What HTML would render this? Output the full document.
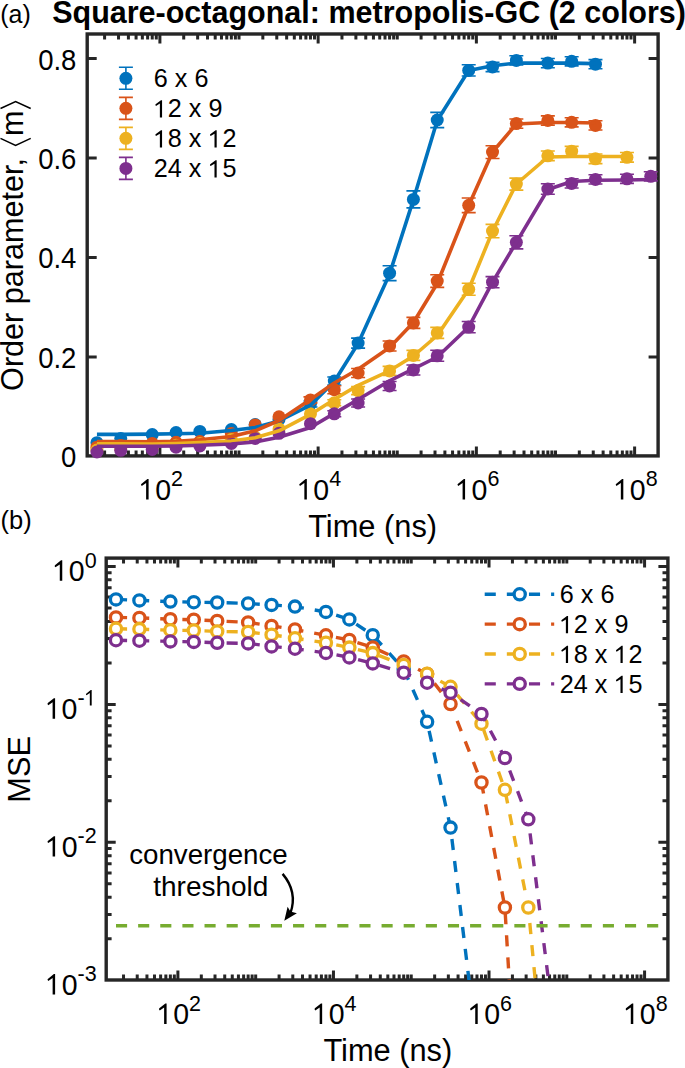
<!DOCTYPE html>
<html><head><meta charset="utf-8"><style>html,body{margin:0;padding:0;background:#fff;}svg{display:block;}.one{fill-opacity:0}</style></head>
<body>
<svg width="685" height="1068" viewBox="0 0 685 1068" font-family="Liberation Sans, sans-serif">
<rect width="685" height="1068" fill="#fff"/>
<defs>
<clipPath id="cb"><rect x="106.2" y="558.1" width="561.6999999999999" height="421.9"/></clipPath>
</defs>
<path d="M104.60 455.9v-5.4M104.60 34.0v5.4M118.53 455.9v-5.4M118.53 34.0v5.4M128.41 455.9v-5.4M128.41 34.0v5.4M136.08 455.9v-5.4M136.08 34.0v5.4M142.35 455.9v-5.4M142.35 34.0v5.4M147.64 455.9v-5.4M147.64 34.0v5.4M152.23 455.9v-5.4M152.23 34.0v5.4M156.28 455.9v-5.4M156.28 34.0v5.4M159.90 455.9v-9.5M159.90 34.0v9.5M183.72 455.9v-5.4M183.72 34.0v5.4M197.65 455.9v-5.4M197.65 34.0v5.4M207.53 455.9v-5.4M207.53 34.0v5.4M215.20 455.9v-5.4M215.20 34.0v5.4M221.47 455.9v-5.4M221.47 34.0v5.4M226.76 455.9v-5.4M226.76 34.0v5.4M231.35 455.9v-5.4M231.35 34.0v5.4M235.40 455.9v-5.4M235.40 34.0v5.4M239.02 455.9v-5.4M239.02 34.0v5.4M262.84 455.9v-5.4M262.84 34.0v5.4M276.77 455.9v-5.4M276.77 34.0v5.4M286.65 455.9v-5.4M286.65 34.0v5.4M294.32 455.9v-5.4M294.32 34.0v5.4M300.59 455.9v-5.4M300.59 34.0v5.4M305.88 455.9v-5.4M305.88 34.0v5.4M310.47 455.9v-5.4M310.47 34.0v5.4M314.52 455.9v-5.4M314.52 34.0v5.4M318.14 455.9v-9.5M318.14 34.0v9.5M341.96 455.9v-5.4M341.96 34.0v5.4M355.89 455.9v-5.4M355.89 34.0v5.4M365.77 455.9v-5.4M365.77 34.0v5.4M373.44 455.9v-5.4M373.44 34.0v5.4M379.71 455.9v-5.4M379.71 34.0v5.4M385.00 455.9v-5.4M385.00 34.0v5.4M389.59 455.9v-5.4M389.59 34.0v5.4M393.64 455.9v-5.4M393.64 34.0v5.4M397.26 455.9v-5.4M397.26 34.0v5.4M421.08 455.9v-5.4M421.08 34.0v5.4M435.01 455.9v-5.4M435.01 34.0v5.4M444.89 455.9v-5.4M444.89 34.0v5.4M452.56 455.9v-5.4M452.56 34.0v5.4M458.83 455.9v-5.4M458.83 34.0v5.4M464.12 455.9v-5.4M464.12 34.0v5.4M468.71 455.9v-5.4M468.71 34.0v5.4M472.76 455.9v-5.4M472.76 34.0v5.4M476.38 455.9v-9.5M476.38 34.0v9.5M500.20 455.9v-5.4M500.20 34.0v5.4M514.13 455.9v-5.4M514.13 34.0v5.4M524.01 455.9v-5.4M524.01 34.0v5.4M531.68 455.9v-5.4M531.68 34.0v5.4M537.95 455.9v-5.4M537.95 34.0v5.4M543.24 455.9v-5.4M543.24 34.0v5.4M547.83 455.9v-5.4M547.83 34.0v5.4M551.88 455.9v-5.4M551.88 34.0v5.4M555.50 455.9v-5.4M555.50 34.0v5.4M579.32 455.9v-5.4M579.32 34.0v5.4M593.25 455.9v-5.4M593.25 34.0v5.4M603.13 455.9v-5.4M603.13 34.0v5.4M610.80 455.9v-5.4M610.80 34.0v5.4M617.07 455.9v-5.4M617.07 34.0v5.4M622.36 455.9v-5.4M622.36 34.0v5.4M626.95 455.9v-5.4M626.95 34.0v5.4M631.00 455.9v-5.4M631.00 34.0v5.4M634.62 455.9v-9.5M634.62 34.0v9.5M87.2 356.88h9.5M658.1 356.88h-9.5M87.2 257.46h9.5M658.1 257.46h-9.5M87.2 158.04h9.5M658.1 158.04h-9.5M87.2 58.62h9.5M658.1 58.62h-9.5" stroke="#262626" stroke-width="3" fill="none"/>
<rect x="87.2" y="34.0" width="570.90" height="421.90" fill="none" stroke="#262626" stroke-width="3.4"/>
<path d="M310.47 401.00V407.00M303.47 401.00h14M303.47 407.00h14" stroke="#0072BD" stroke-width="1.6" fill="none"/><path d="M334.29 377.00V385.00M327.29 377.00h14M327.29 385.00h14" stroke="#0072BD" stroke-width="1.6" fill="none"/><path d="M358.11 338.10V348.10M351.11 338.10h14M351.11 348.10h14" stroke="#0072BD" stroke-width="1.6" fill="none"/><path d="M389.59 265.80V280.60M382.59 265.80h14M382.59 280.60h14" stroke="#0072BD" stroke-width="1.6" fill="none"/><path d="M413.41 190.90V207.90M406.41 190.90h14M406.41 207.90h14" stroke="#0072BD" stroke-width="1.6" fill="none"/><path d="M437.23 112.40V127.60M430.23 112.40h14M430.23 127.60h14" stroke="#0072BD" stroke-width="1.6" fill="none"/><path d="M468.71 64.80V76.00M461.71 64.80h14M461.71 76.00h14" stroke="#0072BD" stroke-width="1.6" fill="none"/><path d="M492.53 62.40V71.60M485.53 62.40h14M485.53 71.60h14" stroke="#0072BD" stroke-width="1.6" fill="none"/><path d="M516.35 55.80V65.00M509.35 55.80h14M509.35 65.00h14" stroke="#0072BD" stroke-width="1.6" fill="none"/><path d="M547.83 58.50V67.70M540.83 58.50h14M540.83 67.70h14" stroke="#0072BD" stroke-width="1.6" fill="none"/><path d="M571.65 56.70V65.90M564.65 56.70h14M564.65 65.90h14" stroke="#0072BD" stroke-width="1.6" fill="none"/><path d="M595.47 59.60V68.80M588.47 59.60h14M588.47 68.80h14" stroke="#0072BD" stroke-width="1.6" fill="none"/><circle cx="96.93" cy="442.70" r="6.5" fill="#0072BD"/><circle cx="120.75" cy="438.50" r="6.5" fill="#0072BD"/><circle cx="152.23" cy="434.60" r="6.5" fill="#0072BD"/><circle cx="176.05" cy="432.50" r="6.5" fill="#0072BD"/><circle cx="199.87" cy="431.40" r="6.5" fill="#0072BD"/><circle cx="231.35" cy="429.60" r="6.5" fill="#0072BD"/><circle cx="255.17" cy="424.50" r="6.5" fill="#0072BD"/><circle cx="278.99" cy="419.50" r="6.5" fill="#0072BD"/><circle cx="310.47" cy="404.00" r="6.5" fill="#0072BD"/><circle cx="334.29" cy="381.00" r="6.5" fill="#0072BD"/><circle cx="358.11" cy="343.10" r="6.5" fill="#0072BD"/><circle cx="389.59" cy="273.20" r="6.5" fill="#0072BD"/><circle cx="413.41" cy="199.40" r="6.5" fill="#0072BD"/><circle cx="437.23" cy="120.00" r="6.5" fill="#0072BD"/><circle cx="468.71" cy="70.40" r="6.5" fill="#0072BD"/><circle cx="492.53" cy="67.00" r="6.5" fill="#0072BD"/><circle cx="516.35" cy="60.40" r="6.5" fill="#0072BD"/><circle cx="547.83" cy="63.10" r="6.5" fill="#0072BD"/><circle cx="571.65" cy="61.30" r="6.5" fill="#0072BD"/><circle cx="595.47" cy="64.20" r="6.5" fill="#0072BD"/>
<path d="M310.47 396.90V402.90M303.47 396.90h14M303.47 402.90h14" stroke="#D95319" stroke-width="1.6" fill="none"/><path d="M334.29 385.70V393.70M327.29 385.70h14M327.29 393.70h14" stroke="#D95319" stroke-width="1.6" fill="none"/><path d="M358.11 368.50V377.50M351.11 368.50h14M351.11 377.50h14" stroke="#D95319" stroke-width="1.6" fill="none"/><path d="M389.59 341.00V351.00M382.59 341.00h14M382.59 351.00h14" stroke="#D95319" stroke-width="1.6" fill="none"/><path d="M413.41 317.40V328.40M406.41 317.40h14M406.41 328.40h14" stroke="#D95319" stroke-width="1.6" fill="none"/><path d="M437.23 274.80V287.40M430.23 274.80h14M430.23 287.40h14" stroke="#D95319" stroke-width="1.6" fill="none"/><path d="M468.71 198.00V212.60M461.71 198.00h14M461.71 212.60h14" stroke="#D95319" stroke-width="1.6" fill="none"/><path d="M492.53 145.70V158.50M485.53 145.70h14M485.53 158.50h14" stroke="#D95319" stroke-width="1.6" fill="none"/><path d="M516.35 119.00V128.20M509.35 119.00h14M509.35 128.20h14" stroke="#D95319" stroke-width="1.6" fill="none"/><path d="M547.83 115.90V125.10M540.83 115.90h14M540.83 125.10h14" stroke="#D95319" stroke-width="1.6" fill="none"/><path d="M571.65 117.70V126.90M564.65 117.70h14M564.65 126.90h14" stroke="#D95319" stroke-width="1.6" fill="none"/><path d="M595.47 120.80V130.00M588.47 120.80h14M588.47 130.00h14" stroke="#D95319" stroke-width="1.6" fill="none"/><circle cx="96.93" cy="447.20" r="6.5" fill="#D95319"/><circle cx="120.75" cy="445.50" r="6.5" fill="#D95319"/><circle cx="152.23" cy="443.40" r="6.5" fill="#D95319"/><circle cx="176.05" cy="442.30" r="6.5" fill="#D95319"/><circle cx="199.87" cy="441.50" r="6.5" fill="#D95319"/><circle cx="231.35" cy="433.50" r="6.5" fill="#D95319"/><circle cx="255.17" cy="424.90" r="6.5" fill="#D95319"/><circle cx="278.99" cy="416.80" r="6.5" fill="#D95319"/><circle cx="310.47" cy="399.90" r="6.5" fill="#D95319"/><circle cx="334.29" cy="389.70" r="6.5" fill="#D95319"/><circle cx="358.11" cy="373.00" r="6.5" fill="#D95319"/><circle cx="389.59" cy="346.00" r="6.5" fill="#D95319"/><circle cx="413.41" cy="322.90" r="6.5" fill="#D95319"/><circle cx="437.23" cy="281.10" r="6.5" fill="#D95319"/><circle cx="468.71" cy="205.30" r="6.5" fill="#D95319"/><circle cx="492.53" cy="152.10" r="6.5" fill="#D95319"/><circle cx="516.35" cy="123.60" r="6.5" fill="#D95319"/><circle cx="547.83" cy="120.50" r="6.5" fill="#D95319"/><circle cx="571.65" cy="122.30" r="6.5" fill="#D95319"/><circle cx="595.47" cy="125.40" r="6.5" fill="#D95319"/>
<path d="M334.29 399.80V405.80M327.29 399.80h14M327.29 405.80h14" stroke="#EDB120" stroke-width="1.6" fill="none"/><path d="M358.11 386.60V394.60M351.11 386.60h14M351.11 394.60h14" stroke="#EDB120" stroke-width="1.6" fill="none"/><path d="M389.59 366.40V375.40M382.59 366.40h14M382.59 375.40h14" stroke="#EDB120" stroke-width="1.6" fill="none"/><path d="M413.41 350.40V360.40M406.41 350.40h14M406.41 360.40h14" stroke="#EDB120" stroke-width="1.6" fill="none"/><path d="M437.23 327.40V338.40M430.23 327.40h14M430.23 338.40h14" stroke="#EDB120" stroke-width="1.6" fill="none"/><path d="M468.71 283.30V295.30M461.71 283.30h14M461.71 295.30h14" stroke="#EDB120" stroke-width="1.6" fill="none"/><path d="M492.53 224.40V237.80M485.53 224.40h14M485.53 237.80h14" stroke="#EDB120" stroke-width="1.6" fill="none"/><path d="M516.35 178.10V190.10M509.35 178.10h14M509.35 190.10h14" stroke="#EDB120" stroke-width="1.6" fill="none"/><path d="M547.83 151.00V160.60M540.83 151.00h14M540.83 160.60h14" stroke="#EDB120" stroke-width="1.6" fill="none"/><path d="M571.65 146.40V156.00M564.65 146.40h14M564.65 156.00h14" stroke="#EDB120" stroke-width="1.6" fill="none"/><path d="M595.47 154.00V163.60M588.47 154.00h14M588.47 163.60h14" stroke="#EDB120" stroke-width="1.6" fill="none"/><path d="M626.95 152.50V162.10M619.95 152.50h14M619.95 162.10h14" stroke="#EDB120" stroke-width="1.6" fill="none"/><circle cx="96.93" cy="450.00" r="6.5" fill="#EDB120"/><circle cx="120.75" cy="449.00" r="6.5" fill="#EDB120"/><circle cx="152.23" cy="447.50" r="6.5" fill="#EDB120"/><circle cx="176.05" cy="445.20" r="6.5" fill="#EDB120"/><circle cx="199.87" cy="443.60" r="6.5" fill="#EDB120"/><circle cx="231.35" cy="439.50" r="6.5" fill="#EDB120"/><circle cx="255.17" cy="437.30" r="6.5" fill="#EDB120"/><circle cx="278.99" cy="428.90" r="6.5" fill="#EDB120"/><circle cx="310.47" cy="413.80" r="6.5" fill="#EDB120"/><circle cx="334.29" cy="402.80" r="6.5" fill="#EDB120"/><circle cx="358.11" cy="390.60" r="6.5" fill="#EDB120"/><circle cx="389.59" cy="370.90" r="6.5" fill="#EDB120"/><circle cx="413.41" cy="355.40" r="6.5" fill="#EDB120"/><circle cx="437.23" cy="332.90" r="6.5" fill="#EDB120"/><circle cx="468.71" cy="289.30" r="6.5" fill="#EDB120"/><circle cx="492.53" cy="231.10" r="6.5" fill="#EDB120"/><circle cx="516.35" cy="184.10" r="6.5" fill="#EDB120"/><circle cx="547.83" cy="155.80" r="6.5" fill="#EDB120"/><circle cx="571.65" cy="151.20" r="6.5" fill="#EDB120"/><circle cx="595.47" cy="158.80" r="6.5" fill="#EDB120"/><circle cx="626.95" cy="157.30" r="6.5" fill="#EDB120"/>
<path d="M334.29 410.80V416.80M327.29 410.80h14M327.29 416.80h14" stroke="#7E2F8E" stroke-width="1.6" fill="none"/><path d="M358.11 399.00V407.00M351.11 399.00h14M351.11 407.00h14" stroke="#7E2F8E" stroke-width="1.6" fill="none"/><path d="M389.59 381.50V390.50M382.59 381.50h14M382.59 390.50h14" stroke="#7E2F8E" stroke-width="1.6" fill="none"/><path d="M413.41 365.00V375.00M406.41 365.00h14M406.41 375.00h14" stroke="#7E2F8E" stroke-width="1.6" fill="none"/><path d="M437.23 350.30V361.30M430.23 350.30h14M430.23 361.30h14" stroke="#7E2F8E" stroke-width="1.6" fill="none"/><path d="M468.71 321.50V332.70M461.71 321.50h14M461.71 332.70h14" stroke="#7E2F8E" stroke-width="1.6" fill="none"/><path d="M492.53 276.60V287.80M485.53 276.60h14M485.53 287.80h14" stroke="#7E2F8E" stroke-width="1.6" fill="none"/><path d="M516.35 235.70V248.90M509.35 235.70h14M509.35 248.90h14" stroke="#7E2F8E" stroke-width="1.6" fill="none"/><path d="M547.83 183.80V194.20M540.83 183.80h14M540.83 194.20h14" stroke="#7E2F8E" stroke-width="1.6" fill="none"/><path d="M571.65 178.80V188.00M564.65 178.80h14M564.65 188.00h14" stroke="#7E2F8E" stroke-width="1.6" fill="none"/><path d="M595.47 174.80V184.00M588.47 174.80h14M588.47 184.00h14" stroke="#7E2F8E" stroke-width="1.6" fill="none"/><path d="M626.95 174.20V183.40M619.95 174.20h14M619.95 183.40h14" stroke="#7E2F8E" stroke-width="1.6" fill="none"/><path d="M650.77 171.70V180.90M643.77 171.70h14M643.77 180.90h14" stroke="#7E2F8E" stroke-width="1.6" fill="none"/><circle cx="96.93" cy="452.00" r="6.5" fill="#7E2F8E"/><circle cx="120.75" cy="450.30" r="6.5" fill="#7E2F8E"/><circle cx="152.23" cy="449.50" r="6.5" fill="#7E2F8E"/><circle cx="176.05" cy="447.20" r="6.5" fill="#7E2F8E"/><circle cx="199.87" cy="446.00" r="6.5" fill="#7E2F8E"/><circle cx="231.35" cy="443.50" r="6.5" fill="#7E2F8E"/><circle cx="255.17" cy="438.40" r="6.5" fill="#7E2F8E"/><circle cx="278.99" cy="433.30" r="6.5" fill="#7E2F8E"/><circle cx="310.47" cy="423.70" r="6.5" fill="#7E2F8E"/><circle cx="334.29" cy="413.80" r="6.5" fill="#7E2F8E"/><circle cx="358.11" cy="403.00" r="6.5" fill="#7E2F8E"/><circle cx="389.59" cy="386.00" r="6.5" fill="#7E2F8E"/><circle cx="413.41" cy="370.00" r="6.5" fill="#7E2F8E"/><circle cx="437.23" cy="355.80" r="6.5" fill="#7E2F8E"/><circle cx="468.71" cy="327.10" r="6.5" fill="#7E2F8E"/><circle cx="492.53" cy="282.20" r="6.5" fill="#7E2F8E"/><circle cx="516.35" cy="242.30" r="6.5" fill="#7E2F8E"/><circle cx="547.83" cy="189.00" r="6.5" fill="#7E2F8E"/><circle cx="571.65" cy="183.40" r="6.5" fill="#7E2F8E"/><circle cx="595.47" cy="179.40" r="6.5" fill="#7E2F8E"/><circle cx="626.95" cy="178.80" r="6.5" fill="#7E2F8E"/><circle cx="650.77" cy="176.30" r="6.5" fill="#7E2F8E"/>
<polyline points="96.93,434.40 120.75,434.40 152.23,434.10 176.05,433.80 199.87,433.20 231.35,430.50 255.17,427.50 278.99,421.00 310.47,405.20 334.29,381.50 358.11,343.50 389.59,273.90 413.41,199.60 437.23,120.50 468.71,70.50 492.53,65.80 516.35,63.00 547.83,63.10 571.65,63.10 595.47,63.60" fill="none" stroke="#0072BD" stroke-width="3.6" stroke-linejoin="round" stroke-linecap="butt"/>
<polyline points="96.93,441.60 120.75,441.60 152.23,441.70 176.05,441.20 199.87,439.80 231.35,436.50 255.17,430.80 278.99,420.50 310.47,399.50 334.29,383.00 358.11,369.20 389.59,347.50 413.41,322.50 437.23,283.50 468.71,205.50 492.53,152.00 516.35,124.00 547.83,122.50 571.65,122.50 595.47,123.00" fill="none" stroke="#D95319" stroke-width="3.6" stroke-linejoin="round" stroke-linecap="butt"/>
<polyline points="96.93,443.90 120.75,443.90 152.23,444.00 176.05,443.50 199.87,442.60 231.35,441.10 255.17,437.80 278.99,430.80 310.47,414.40 334.29,399.40 358.11,385.30 389.59,370.80 413.41,356.00 437.23,335.50 468.71,289.30 492.53,231.30 516.35,184.00 547.83,157.00 571.65,156.50 595.47,156.50 626.95,156.50" fill="none" stroke="#EDB120" stroke-width="3.6" stroke-linejoin="round" stroke-linecap="butt"/>
<polyline points="96.93,446.20 120.75,446.20 152.23,446.30 176.05,446.00 199.87,445.20 231.35,444.00 255.17,441.90 278.99,437.30 310.47,427.50 334.29,413.40 358.11,399.50 389.59,380.80 413.41,368.80 437.23,357.00 468.71,327.00 492.53,282.20 516.35,242.30 547.83,189.50 571.65,181.50 595.47,180.30 626.95,180.00 650.77,179.50" fill="none" stroke="#7E2F8E" stroke-width="3.6" stroke-linejoin="round" stroke-linecap="butt"/>
<text transform="translate(76.4 467.20) scale(0.965 1.05)" font-size="28.5" text-anchor="end" fill="#000">0</text>
<text transform="translate(76.4 367.78) scale(0.965 1.05)" font-size="28.5" text-anchor="end" fill="#000">0.2</text>
<text transform="translate(76.4 268.36) scale(0.965 1.05)" font-size="28.5" text-anchor="end" fill="#000">0.4</text>
<text transform="translate(76.4 168.94) scale(0.965 1.05)" font-size="28.5" text-anchor="end" fill="#000">0.6</text>
<text transform="translate(76.4 69.52) scale(0.965 1.05)" font-size="28.5" text-anchor="end" fill="#000">0.8</text>
<text id="t1_0" transform="translate(161.10 499.5) scale(1 1.05)" font-size="28.5" text-anchor="middle" fill="#000"><tspan class="one">1</tspan>0<tspan dy="-12.6" font-size="21.5">2</tspan></text>
<path transform="translate(161.10 499.5) scale(1 1.05)" d="M-12.50 0.00L-12.50 -19.49L-13.72 -19.49L-19.79 -14.88L-20.14 -13.96L-19.34 -12.88L-14.98 -15.62L-14.98 0.00Z" fill="#000"/>
<text id="t1_1" transform="translate(319.34 499.5) scale(1 1.05)" font-size="28.5" text-anchor="middle" fill="#000"><tspan class="one">1</tspan>0<tspan dy="-12.6" font-size="21.5">4</tspan></text>
<path transform="translate(319.34 499.5) scale(1 1.05)" d="M-12.50 0.00L-12.50 -19.49L-13.72 -19.49L-19.79 -14.88L-20.14 -13.96L-19.34 -12.88L-14.98 -15.62L-14.98 0.00Z" fill="#000"/>
<text id="t1_2" transform="translate(477.58 499.5) scale(1 1.05)" font-size="28.5" text-anchor="middle" fill="#000"><tspan class="one">1</tspan>0<tspan dy="-12.6" font-size="21.5">6</tspan></text>
<path transform="translate(477.58 499.5) scale(1 1.05)" d="M-12.50 0.00L-12.50 -19.49L-13.72 -19.49L-19.79 -14.88L-20.14 -13.96L-19.34 -12.88L-14.98 -15.62L-14.98 0.00Z" fill="#000"/>
<text id="t1_3" transform="translate(635.82 499.5) scale(1 1.05)" font-size="28.5" text-anchor="middle" fill="#000"><tspan class="one">1</tspan>0<tspan dy="-12.6" font-size="21.5">8</tspan></text>
<path transform="translate(635.82 499.5) scale(1 1.05)" d="M-12.50 0.00L-12.50 -19.49L-13.72 -19.49L-19.79 -14.88L-20.14 -13.96L-19.34 -12.88L-14.98 -15.62L-14.98 0.00Z" fill="#000"/>
<text x="372.65" y="537.0" font-size="30.8" text-anchor="middle" fill="#000">Time (ns)</text>
<g transform="translate(22.8 390.9) rotate(-90)"><text x="0" y="0" font-size="30.6" fill="#000">Order parameter,</text><text x="255.0" y="0" font-size="30.6" fill="#000">m</text><path d="M252.5 -22.3 L245.5 -7.2 L252.5 7.9 M282.4 -22.3 L289.4 -7.2 L282.4 7.9" stroke="#000" stroke-width="1.5" fill="none"/></g>
<text x="369.1" y="22.6" font-size="30.5" font-weight="bold" text-anchor="middle" fill="#000">Square-octagonal: metropolis-GC (2 colors)</text>
<text x="0.3" y="22.6" font-size="25" fill="#000">(a)</text>
<path d="M125.9 67.3V89.3M118.9 67.3h14M118.9 89.3h14" stroke="#0072BD" stroke-width="1.6" fill="none"/>
<circle cx="125.9" cy="78.30" r="6.5" fill="#0072BD"/>
<text x="153.8" y="87.40" font-size="25.2" fill="#000">6 x 6</text>
<path d="M125.9 97.33V119.33M118.9 97.33h14M118.9 119.33h14" stroke="#D95319" stroke-width="1.6" fill="none"/>
<circle cx="125.9" cy="108.33" r="6.5" fill="#D95319"/>
<text id="t1_5" x="153.8" y="117.43" font-size="25.2" fill="#000"><tspan class="one">1</tspan>2 x 9</text>
<path d="M162.07 117.43L162.07 100.19L160.98 100.19L155.61 104.28L155.31 105.08L156.02 106.04L159.87 103.62L159.87 117.43Z" fill="#000"/>
<path d="M125.9 127.36000000000001V149.36M118.9 127.36000000000001h14M118.9 149.36h14" stroke="#EDB120" stroke-width="1.6" fill="none"/>
<circle cx="125.9" cy="138.36" r="6.5" fill="#EDB120"/>
<text id="t1_6" x="153.8" y="147.46" font-size="25.2" fill="#000"><tspan class="one">1</tspan>8 x <tspan class="one">1</tspan>2</text>
<path d="M162.07 147.46L162.07 130.22L160.98 130.22L155.61 134.31L155.31 135.11L156.02 136.07L159.87 133.65L159.87 147.46ZM216.69 147.46L216.69 130.22L215.61 130.22L210.24 134.31L209.94 135.11L210.64 136.07L214.50 133.65L214.50 147.46Z" fill="#000"/>
<path d="M125.9 157.39V179.39M118.9 157.39h14M118.9 179.39h14" stroke="#7E2F8E" stroke-width="1.6" fill="none"/>
<circle cx="125.9" cy="168.39" r="6.5" fill="#7E2F8E"/>
<text id="t1_7" x="153.8" y="177.49" font-size="25.2" fill="#000">24 x <tspan class="one">1</tspan>5</text>
<path d="M216.67 177.49L216.67 160.25L215.59 160.25L210.22 164.34L209.92 165.14L210.63 166.10L214.48 163.68L214.48 177.49Z" fill="#000"/>
<path d="M123.53 980.0v-5.4M123.53 558.1v5.4M137.23 980.0v-5.4M137.23 558.1v5.4M146.95 980.0v-5.4M146.95 558.1v5.4M154.49 980.0v-5.4M154.49 558.1v5.4M160.64 980.0v-5.4M160.64 558.1v5.4M165.85 980.0v-5.4M165.85 558.1v5.4M170.36 980.0v-5.4M170.36 558.1v5.4M174.34 980.0v-5.4M174.34 558.1v5.4M177.90 980.0v-9.5M177.90 558.1v9.5M201.31 980.0v-5.4M201.31 558.1v5.4M215.01 980.0v-5.4M215.01 558.1v5.4M224.73 980.0v-5.4M224.73 558.1v5.4M232.27 980.0v-5.4M232.27 558.1v5.4M238.42 980.0v-5.4M238.42 558.1v5.4M243.63 980.0v-5.4M243.63 558.1v5.4M248.14 980.0v-5.4M248.14 558.1v5.4M252.12 980.0v-5.4M252.12 558.1v5.4M255.68 980.0v-5.4M255.68 558.1v5.4M279.09 980.0v-5.4M279.09 558.1v5.4M292.79 980.0v-5.4M292.79 558.1v5.4M302.51 980.0v-5.4M302.51 558.1v5.4M310.05 980.0v-5.4M310.05 558.1v5.4M316.20 980.0v-5.4M316.20 558.1v5.4M321.41 980.0v-5.4M321.41 558.1v5.4M325.92 980.0v-5.4M325.92 558.1v5.4M329.90 980.0v-5.4M329.90 558.1v5.4M333.46 980.0v-9.5M333.46 558.1v9.5M356.87 980.0v-5.4M356.87 558.1v5.4M370.57 980.0v-5.4M370.57 558.1v5.4M380.29 980.0v-5.4M380.29 558.1v5.4M387.83 980.0v-5.4M387.83 558.1v5.4M393.98 980.0v-5.4M393.98 558.1v5.4M399.19 980.0v-5.4M399.19 558.1v5.4M403.70 980.0v-5.4M403.70 558.1v5.4M407.68 980.0v-5.4M407.68 558.1v5.4M411.24 980.0v-5.4M411.24 558.1v5.4M434.65 980.0v-5.4M434.65 558.1v5.4M448.35 980.0v-5.4M448.35 558.1v5.4M458.07 980.0v-5.4M458.07 558.1v5.4M465.61 980.0v-5.4M465.61 558.1v5.4M471.76 980.0v-5.4M471.76 558.1v5.4M476.97 980.0v-5.4M476.97 558.1v5.4M481.48 980.0v-5.4M481.48 558.1v5.4M485.46 980.0v-5.4M485.46 558.1v5.4M489.02 980.0v-9.5M489.02 558.1v9.5M512.43 980.0v-5.4M512.43 558.1v5.4M526.13 980.0v-5.4M526.13 558.1v5.4M535.85 980.0v-5.4M535.85 558.1v5.4M543.39 980.0v-5.4M543.39 558.1v5.4M549.54 980.0v-5.4M549.54 558.1v5.4M554.75 980.0v-5.4M554.75 558.1v5.4M559.26 980.0v-5.4M559.26 558.1v5.4M563.24 980.0v-5.4M563.24 558.1v5.4M566.80 980.0v-5.4M566.80 558.1v5.4M590.21 980.0v-5.4M590.21 558.1v5.4M603.91 980.0v-5.4M603.91 558.1v5.4M613.63 980.0v-5.4M613.63 558.1v5.4M621.17 980.0v-5.4M621.17 558.1v5.4M627.32 980.0v-5.4M627.32 558.1v5.4M632.53 980.0v-5.4M632.53 558.1v5.4M637.04 980.0v-5.4M637.04 558.1v5.4M641.02 980.0v-5.4M641.02 558.1v5.4M644.58 980.0v-9.5M644.58 558.1v9.5M106.2 938.69h5.4M667.9 938.69h-5.4M106.2 914.40h5.4M667.9 914.40h-5.4M106.2 897.18h5.4M667.9 897.18h-5.4M106.2 883.81h5.4M667.9 883.81h-5.4M106.2 872.89h5.4M667.9 872.89h-5.4M106.2 863.66h5.4M667.9 863.66h-5.4M106.2 855.66h5.4M667.9 855.66h-5.4M106.2 848.61h5.4M667.9 848.61h-5.4M106.2 842.30h9.5M667.9 842.30h-9.5M106.2 800.79h5.4M667.9 800.79h-5.4M106.2 776.50h5.4M667.9 776.50h-5.4M106.2 759.28h5.4M667.9 759.28h-5.4M106.2 745.91h5.4M667.9 745.91h-5.4M106.2 734.99h5.4M667.9 734.99h-5.4M106.2 725.76h5.4M667.9 725.76h-5.4M106.2 717.76h5.4M667.9 717.76h-5.4M106.2 710.71h5.4M667.9 710.71h-5.4M106.2 704.40h9.5M667.9 704.40h-9.5M106.2 662.89h5.4M667.9 662.89h-5.4M106.2 638.60h5.4M667.9 638.60h-5.4M106.2 621.38h5.4M667.9 621.38h-5.4M106.2 608.01h5.4M667.9 608.01h-5.4M106.2 597.09h5.4M667.9 597.09h-5.4M106.2 587.86h5.4M667.9 587.86h-5.4M106.2 579.86h5.4M667.9 579.86h-5.4M106.2 572.81h5.4M667.9 572.81h-5.4M106.2 566.50h9.5M667.9 566.50h-9.5" stroke="#262626" stroke-width="3" fill="none"/>
<rect x="106.2" y="558.1" width="561.70" height="421.90" fill="none" stroke="#262626" stroke-width="3.4"/>
<g clip-path="url(#cb)">
<polyline points="116.00,599.40 139.41,600.40 170.36,601.60 193.78,602.20 217.19,602.50 248.14,603.50 271.56,604.90 294.97,606.60 325.92,611.90 349.34,619.40 372.75,635.20 403.70,669.00 427.12,721.80 450.53,827.60 481.48,1083.00" fill="none" stroke="#0072BD" stroke-width="3.4" stroke-dasharray="11.1 11.03"/>
<circle cx="116.00" cy="599.40" r="5.6" fill="#fff" stroke="#0072BD" stroke-width="3.3"/>
<circle cx="139.41" cy="600.40" r="5.6" fill="#fff" stroke="#0072BD" stroke-width="3.3"/>
<circle cx="170.36" cy="601.60" r="5.6" fill="#fff" stroke="#0072BD" stroke-width="3.3"/>
<circle cx="193.78" cy="602.20" r="5.6" fill="#fff" stroke="#0072BD" stroke-width="3.3"/>
<circle cx="217.19" cy="602.50" r="5.6" fill="#fff" stroke="#0072BD" stroke-width="3.3"/>
<circle cx="248.14" cy="603.50" r="5.6" fill="#fff" stroke="#0072BD" stroke-width="3.3"/>
<circle cx="271.56" cy="604.90" r="5.6" fill="#fff" stroke="#0072BD" stroke-width="3.3"/>
<circle cx="294.97" cy="606.60" r="5.6" fill="#fff" stroke="#0072BD" stroke-width="3.3"/>
<circle cx="325.92" cy="611.90" r="5.6" fill="#fff" stroke="#0072BD" stroke-width="3.3"/>
<circle cx="349.34" cy="619.40" r="5.6" fill="#fff" stroke="#0072BD" stroke-width="3.3"/>
<circle cx="372.75" cy="635.20" r="5.6" fill="#fff" stroke="#0072BD" stroke-width="3.3"/>
<circle cx="403.70" cy="669.00" r="5.6" fill="#fff" stroke="#0072BD" stroke-width="3.3"/>
<circle cx="427.12" cy="721.80" r="5.6" fill="#fff" stroke="#0072BD" stroke-width="3.3"/>
<circle cx="450.53" cy="827.60" r="5.6" fill="#fff" stroke="#0072BD" stroke-width="3.3"/>
<polyline points="116.00,617.40 139.41,617.90 170.36,619.20 193.78,619.70 217.19,620.90 248.14,622.40 271.56,625.90 294.97,629.50 325.92,635.30 349.34,640.00 372.75,647.40 403.70,661.50 427.12,674.00 450.53,704.00 481.48,782.50 504.90,907.50 528.31,1302.00" fill="none" stroke="#D95319" stroke-width="3.4" stroke-dasharray="11.1 11.03"/>
<circle cx="116.00" cy="617.40" r="5.6" fill="#fff" stroke="#D95319" stroke-width="3.3"/>
<circle cx="139.41" cy="617.90" r="5.6" fill="#fff" stroke="#D95319" stroke-width="3.3"/>
<circle cx="170.36" cy="619.20" r="5.6" fill="#fff" stroke="#D95319" stroke-width="3.3"/>
<circle cx="193.78" cy="619.70" r="5.6" fill="#fff" stroke="#D95319" stroke-width="3.3"/>
<circle cx="217.19" cy="620.90" r="5.6" fill="#fff" stroke="#D95319" stroke-width="3.3"/>
<circle cx="248.14" cy="622.40" r="5.6" fill="#fff" stroke="#D95319" stroke-width="3.3"/>
<circle cx="271.56" cy="625.90" r="5.6" fill="#fff" stroke="#D95319" stroke-width="3.3"/>
<circle cx="294.97" cy="629.50" r="5.6" fill="#fff" stroke="#D95319" stroke-width="3.3"/>
<circle cx="325.92" cy="635.30" r="5.6" fill="#fff" stroke="#D95319" stroke-width="3.3"/>
<circle cx="349.34" cy="640.00" r="5.6" fill="#fff" stroke="#D95319" stroke-width="3.3"/>
<circle cx="372.75" cy="647.40" r="5.6" fill="#fff" stroke="#D95319" stroke-width="3.3"/>
<circle cx="403.70" cy="661.50" r="5.6" fill="#fff" stroke="#D95319" stroke-width="3.3"/>
<circle cx="427.12" cy="674.00" r="5.6" fill="#fff" stroke="#D95319" stroke-width="3.3"/>
<circle cx="450.53" cy="704.00" r="5.6" fill="#fff" stroke="#D95319" stroke-width="3.3"/>
<circle cx="481.48" cy="782.50" r="5.6" fill="#fff" stroke="#D95319" stroke-width="3.3"/>
<circle cx="504.90" cy="907.50" r="5.6" fill="#fff" stroke="#D95319" stroke-width="3.3"/>
<polyline points="116.00,628.80 139.41,629.10 170.36,630.20 193.78,630.50 217.19,631.40 248.14,632.00 271.56,634.70 294.97,638.30 325.92,642.80 349.34,647.60 372.75,653.10 403.70,665.00 427.12,673.80 450.53,686.80 481.48,723.70 504.90,789.80 528.31,907.50 559.26,1233.00" fill="none" stroke="#EDB120" stroke-width="3.4" stroke-dasharray="11.1 11.03"/>
<circle cx="116.00" cy="628.80" r="5.6" fill="#fff" stroke="#EDB120" stroke-width="3.3"/>
<circle cx="139.41" cy="629.10" r="5.6" fill="#fff" stroke="#EDB120" stroke-width="3.3"/>
<circle cx="170.36" cy="630.20" r="5.6" fill="#fff" stroke="#EDB120" stroke-width="3.3"/>
<circle cx="193.78" cy="630.50" r="5.6" fill="#fff" stroke="#EDB120" stroke-width="3.3"/>
<circle cx="217.19" cy="631.40" r="5.6" fill="#fff" stroke="#EDB120" stroke-width="3.3"/>
<circle cx="248.14" cy="632.00" r="5.6" fill="#fff" stroke="#EDB120" stroke-width="3.3"/>
<circle cx="271.56" cy="634.70" r="5.6" fill="#fff" stroke="#EDB120" stroke-width="3.3"/>
<circle cx="294.97" cy="638.30" r="5.6" fill="#fff" stroke="#EDB120" stroke-width="3.3"/>
<circle cx="325.92" cy="642.80" r="5.6" fill="#fff" stroke="#EDB120" stroke-width="3.3"/>
<circle cx="349.34" cy="647.60" r="5.6" fill="#fff" stroke="#EDB120" stroke-width="3.3"/>
<circle cx="372.75" cy="653.10" r="5.6" fill="#fff" stroke="#EDB120" stroke-width="3.3"/>
<circle cx="403.70" cy="665.00" r="5.6" fill="#fff" stroke="#EDB120" stroke-width="3.3"/>
<circle cx="427.12" cy="673.80" r="5.6" fill="#fff" stroke="#EDB120" stroke-width="3.3"/>
<circle cx="450.53" cy="686.80" r="5.6" fill="#fff" stroke="#EDB120" stroke-width="3.3"/>
<circle cx="481.48" cy="723.70" r="5.6" fill="#fff" stroke="#EDB120" stroke-width="3.3"/>
<circle cx="504.90" cy="789.80" r="5.6" fill="#fff" stroke="#EDB120" stroke-width="3.3"/>
<circle cx="528.31" cy="907.50" r="5.6" fill="#fff" stroke="#EDB120" stroke-width="3.3"/>
<polyline points="116.00,640.20 139.41,640.70 170.36,641.40 193.78,641.90 217.19,642.80 248.14,643.40 271.56,646.40 294.97,648.70 325.92,652.90 349.34,657.40 372.75,663.40 403.70,672.70 427.12,682.70 450.53,692.70 481.48,714.00 504.90,758.00 528.31,819.30 559.26,1066.00" fill="none" stroke="#7E2F8E" stroke-width="3.4" stroke-dasharray="11.1 11.03"/>
<circle cx="116.00" cy="640.20" r="5.6" fill="#fff" stroke="#7E2F8E" stroke-width="3.3"/>
<circle cx="139.41" cy="640.70" r="5.6" fill="#fff" stroke="#7E2F8E" stroke-width="3.3"/>
<circle cx="170.36" cy="641.40" r="5.6" fill="#fff" stroke="#7E2F8E" stroke-width="3.3"/>
<circle cx="193.78" cy="641.90" r="5.6" fill="#fff" stroke="#7E2F8E" stroke-width="3.3"/>
<circle cx="217.19" cy="642.80" r="5.6" fill="#fff" stroke="#7E2F8E" stroke-width="3.3"/>
<circle cx="248.14" cy="643.40" r="5.6" fill="#fff" stroke="#7E2F8E" stroke-width="3.3"/>
<circle cx="271.56" cy="646.40" r="5.6" fill="#fff" stroke="#7E2F8E" stroke-width="3.3"/>
<circle cx="294.97" cy="648.70" r="5.6" fill="#fff" stroke="#7E2F8E" stroke-width="3.3"/>
<circle cx="325.92" cy="652.90" r="5.6" fill="#fff" stroke="#7E2F8E" stroke-width="3.3"/>
<circle cx="349.34" cy="657.40" r="5.6" fill="#fff" stroke="#7E2F8E" stroke-width="3.3"/>
<circle cx="372.75" cy="663.40" r="5.6" fill="#fff" stroke="#7E2F8E" stroke-width="3.3"/>
<circle cx="403.70" cy="672.70" r="5.6" fill="#fff" stroke="#7E2F8E" stroke-width="3.3"/>
<circle cx="427.12" cy="682.70" r="5.6" fill="#fff" stroke="#7E2F8E" stroke-width="3.3"/>
<circle cx="450.53" cy="692.70" r="5.6" fill="#fff" stroke="#7E2F8E" stroke-width="3.3"/>
<circle cx="481.48" cy="714.00" r="5.6" fill="#fff" stroke="#7E2F8E" stroke-width="3.3"/>
<circle cx="504.90" cy="758.00" r="5.6" fill="#fff" stroke="#7E2F8E" stroke-width="3.3"/>
<circle cx="528.31" cy="819.30" r="5.6" fill="#fff" stroke="#7E2F8E" stroke-width="3.3"/>
</g>
<line x1="116.00" y1="925.8" x2="660.46" y2="925.8" stroke="#77AC30" stroke-width="3.4" stroke-dasharray="11.1 11.03"/>
<text id="t1_8" transform="translate(96.6 580.80) scale(1 1.05)" font-size="28.5" text-anchor="end" fill="#000"><tspan class="one">1</tspan>0<tspan dy="-12.6" font-size="21.5">0</tspan></text>
<path transform="translate(96.6 580.80) scale(1 1.05)" d="M-34.34 0.00L-34.34 -19.49L-35.57 -19.49L-41.64 -14.88L-41.98 -13.96L-41.18 -12.88L-36.82 -15.62L-36.82 0.00Z" fill="#000"/>
<text id="t1_9" transform="translate(96.6 718.70) scale(1 1.05)" font-size="28.5" text-anchor="end" fill="#000"><tspan class="one">1</tspan>0<tspan dy="-12.6" font-size="21.5">-<tspan class="one">1</tspan></tspan></text>
<path transform="translate(96.6 718.70) scale(1 1.05)" d="M-41.51 0.00L-41.51 -19.49L-42.73 -19.49L-48.80 -14.88L-49.14 -13.96L-48.35 -12.88L-43.99 -15.62L-43.99 0.00ZM-4.91 -12.60L-4.91 -27.31L-5.84 -27.31L-10.41 -23.82L-10.67 -23.13L-10.07 -22.32L-6.78 -24.38L-6.78 -12.60Z" fill="#000"/>
<text id="t1_10" transform="translate(96.6 856.60) scale(1 1.05)" font-size="28.5" text-anchor="end" fill="#000"><tspan class="one">1</tspan>0<tspan dy="-12.6" font-size="21.5">-2</tspan></text>
<path transform="translate(96.6 856.60) scale(1 1.05)" d="M-41.49 0.00L-41.49 -19.49L-42.72 -19.49L-48.79 -14.88L-49.13 -13.96L-48.33 -12.88L-43.97 -15.62L-43.97 0.00Z" fill="#000"/>
<text id="t1_11" transform="translate(96.6 994.50) scale(1 1.05)" font-size="28.5" text-anchor="end" fill="#000"><tspan class="one">1</tspan>0<tspan dy="-12.6" font-size="21.5">-3</tspan></text>
<path transform="translate(96.6 994.50) scale(1 1.05)" d="M-41.49 0.00L-41.49 -19.49L-42.72 -19.49L-48.79 -14.88L-49.13 -13.96L-48.33 -12.88L-43.97 -15.62L-43.97 0.00Z" fill="#000"/>
<text id="t1_12" transform="translate(179.10 1023.9) scale(1 1.05)" font-size="28.5" text-anchor="middle" fill="#000"><tspan class="one">1</tspan>0<tspan dy="-12.6" font-size="21.5">2</tspan></text>
<path transform="translate(179.10 1023.9) scale(1 1.05)" d="M-12.50 0.00L-12.50 -19.49L-13.72 -19.49L-19.79 -14.88L-20.14 -13.96L-19.34 -12.88L-14.98 -15.62L-14.98 0.00Z" fill="#000"/>
<text id="t1_13" transform="translate(334.66 1023.9) scale(1 1.05)" font-size="28.5" text-anchor="middle" fill="#000"><tspan class="one">1</tspan>0<tspan dy="-12.6" font-size="21.5">4</tspan></text>
<path transform="translate(334.66 1023.9) scale(1 1.05)" d="M-12.50 0.00L-12.50 -19.49L-13.72 -19.49L-19.79 -14.88L-20.14 -13.96L-19.34 -12.88L-14.98 -15.62L-14.98 0.00Z" fill="#000"/>
<text id="t1_14" transform="translate(490.22 1023.9) scale(1 1.05)" font-size="28.5" text-anchor="middle" fill="#000"><tspan class="one">1</tspan>0<tspan dy="-12.6" font-size="21.5">6</tspan></text>
<path transform="translate(490.22 1023.9) scale(1 1.05)" d="M-12.50 0.00L-12.50 -19.49L-13.72 -19.49L-19.79 -14.88L-20.14 -13.96L-19.34 -12.88L-14.98 -15.62L-14.98 0.00Z" fill="#000"/>
<text id="t1_15" transform="translate(645.78 1023.9) scale(1 1.05)" font-size="28.5" text-anchor="middle" fill="#000"><tspan class="one">1</tspan>0<tspan dy="-12.6" font-size="21.5">8</tspan></text>
<path transform="translate(645.78 1023.9) scale(1 1.05)" d="M-12.50 0.00L-12.50 -19.49L-13.72 -19.49L-19.79 -14.88L-20.14 -13.96L-19.34 -12.88L-14.98 -15.62L-14.98 0.00Z" fill="#000"/>
<text x="387.85" y="1061.2" font-size="30.8" text-anchor="middle" fill="#000">Time (ns)</text>
<text transform="translate(30.2 802.7) rotate(-90)" x="0" y="0" font-size="30.8" fill="#000">MSE</text>
<text x="0.5" y="528.9" font-size="25.5" fill="#000">(b)</text>
<text x="208.5" y="863.6" font-size="27.7" text-anchor="middle" fill="#000">convergence</text>
<text x="210.8" y="896.3" font-size="28" text-anchor="middle" fill="#000">threshold</text>
<path d="M282.6 873.9 C292 885 295.4 899 290.4 913.2" stroke="#000" stroke-width="2.4" fill="none"/>
<path d="M284.3 920.8 L287.6 906.8 L290.4 911.6 L296.9 913.2 Z" fill="#000"/>
<line x1="484.7" y1="594.30" x2="554.2" y2="594.30" stroke="#0072BD" stroke-width="3.4" stroke-dasharray="11.1 11.03"/>
<circle cx="519.7" cy="594.30" r="5.6" fill="#fff" stroke="#0072BD" stroke-width="3.3"/>
<text x="559.8" y="603.40" font-size="25.2" fill="#000">6 x 6</text>
<line x1="484.7" y1="624.15" x2="554.2" y2="624.15" stroke="#D95319" stroke-width="3.4" stroke-dasharray="11.1 11.03"/>
<circle cx="519.7" cy="624.15" r="5.6" fill="#fff" stroke="#D95319" stroke-width="3.3"/>
<text id="t1_17" x="559.8" y="633.25" font-size="25.2" fill="#000"><tspan class="one">1</tspan>2 x 9</text>
<path d="M568.07 633.25L568.07 616.01L566.98 616.01L561.61 620.10L561.31 620.90L562.02 621.86L565.87 619.44L565.87 633.25Z" fill="#000"/>
<line x1="484.7" y1="654.00" x2="554.2" y2="654.00" stroke="#EDB120" stroke-width="3.4" stroke-dasharray="11.1 11.03"/>
<circle cx="519.7" cy="654.00" r="5.6" fill="#fff" stroke="#EDB120" stroke-width="3.3"/>
<text id="t1_18" x="559.8" y="663.10" font-size="25.2" fill="#000"><tspan class="one">1</tspan>8 x <tspan class="one">1</tspan>2</text>
<path d="M568.07 663.10L568.07 645.86L566.98 645.86L561.61 649.95L561.31 650.75L562.02 651.71L565.87 649.29L565.87 663.10ZM622.69 663.10L622.69 645.86L621.61 645.86L616.24 649.95L615.94 650.75L616.64 651.71L620.50 649.29L620.50 663.10Z" fill="#000"/>
<line x1="484.7" y1="683.85" x2="554.2" y2="683.85" stroke="#7E2F8E" stroke-width="3.4" stroke-dasharray="11.1 11.03"/>
<circle cx="519.7" cy="683.85" r="5.6" fill="#fff" stroke="#7E2F8E" stroke-width="3.3"/>
<text id="t1_19" x="559.8" y="692.95" font-size="25.2" fill="#000">24 x <tspan class="one">1</tspan>5</text>
<path d="M622.67 692.95L622.67 675.71L621.59 675.71L616.22 679.80L615.92 680.60L616.63 681.56L620.48 679.14L620.48 692.95Z" fill="#000"/>
</svg>
</body></html>
